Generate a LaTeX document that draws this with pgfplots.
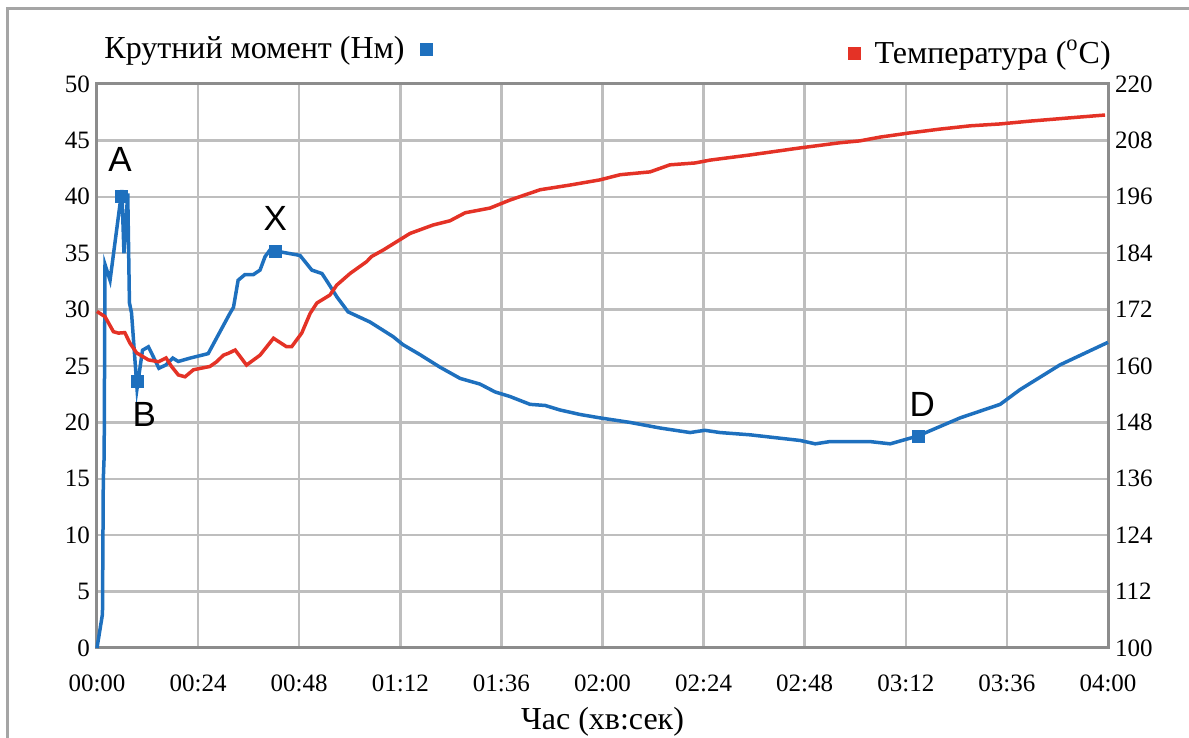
\documentclass[border=0pt]{standalone}
\usepackage{fontspec}
\setmainfont{Liberation Serif}
\newfontfamily\arialfont{Liberation Sans}
\usepackage{pgfplots}
\pgfplotsset{compat=1.18}

\definecolor{torque}{RGB}{30,112,190}
\definecolor{temper}{RGB}{228,50,38}
\definecolor{gridc}{RGB}{190,190,190}
\definecolor{axisc}{RGB}{140,140,140}
\definecolor{framec}{RGB}{165,165,165}

% torque, N m (left axis); time in seconds
\pgfplotstableread{
t v
0 0
1.3 3.0
1.5 15
1.7 17
1.9 34.0
3.1 32.6
5.9 40.6
6.4 35.0
7.3 40.3
7.7 30.6
8.2 29.7
9.5 23.0
10.8 26.4
12.2 26.7
13.0 26.1
14.7 24.8
16.4 25.1
18.0 25.7
19.3 25.4
22.1 25.7
26.4 26.1
31.6 29.7
32.4 30.2
33.5 32.6
35.1 33.1
37.1 33.1
38.7 33.5
39.9 34.7
41.1 35.3
42.3 35.2
48.2 34.8
51.0 33.5
53.4 33.2
54.8 32.4
57.0 31.1
59.6 29.8
64.8 28.9
70.3 27.6
72.6 26.9
76.7 26.0
81.4 24.9
86.2 23.9
90.9 23.4
94.5 22.7
98.0 22.3
102.8 21.6
106.4 21.5
109.9 21.1
114.7 20.7
119.4 20.4
126.5 20.0
133.7 19.5
140.8 19.1
144.3 19.3
147.9 19.1
155.0 18.9
162.1 18.6
166.9 18.4
170.5 18.1
174.0 18.3
183.5 18.3
188.3 18.1
194.9 18.8
204.9 20.4
214.4 21.6
219.1 22.9
228.6 25.1
240 27.1
}\torquedata

% temperature, deg C (right axis)
\pgfplotstableread{
t v
0 171.6
1.9 170.5
3.9 167.3
5.1 167.0
6.6 167.1
7.8 164.9
9.4 162.8
12.2 161.3
14.6 160.9
16.4 161.7
17.7 159.9
19.3 158.1
20.9 157.7
22.9 159.2
26.8 159.9
28.4 160.9
30.0 162.3
31.2 162.7
32.8 163.4
35.5 160.2
38.7 162.3
41.9 165.9
45.0 164.1
46.2 164.1
48.6 167.0
50.6 171.2
52.2 173.4
55.3 175.1
56.9 177.2
60.1 179.7
64.0 182.2
65.2 183.3
68.0 184.7
74.3 188.2
79.8 190.0
83.8 190.9
87.4 192.6
93.3 193.6
98.0 195.3
105.2 197.5
112.3 198.5
119.4 199.6
124.2 200.7
131.3 201.3
136.0 202.8
142.0 203.2
145.5 203.8
155.0 204.9
166.9 206.4
176.4 207.5
181.1 207.9
185.9 208.7
193.0 209.6
200.1 210.4
207.3 211.1
214.4 211.5
221.5 212.1
231.0 212.8
239.3 213.4
}\tempdata

\pgfplotsset{
  base/.style={
    scale only axis,
    width=505.5pt, height=282pt,
    xmin=0, xmax=240,
    clip=false,
    major tick length=0pt,
    tick label style={font=\fontsize{12.5}{14}\selectfont},
    /pgf/number format/assume math mode=true,
    legend cell align=left,
  },
}

\begin{document}
\begin{tikzpicture}
\useasboundingbox (-48.5pt,-45pt) rectangle (546pt,324pt);
\draw[framec, line width=1.5pt] (-44.5pt,-46pt) -- (-44.5pt,319.5pt) -- (547pt,319.5pt);

\begin{axis}[
    base,
    ymin=0, ymax=50,
    ytick={0,5,...,50},
    xtick={0,24,...,240},
    xticklabels={00:00,00:24,00:48,01:12,01:36,02:00,02:24,02:48,03:12,03:36,04:00},
    xticklabel style={yshift=-10pt},
    grid=major,
    grid style={gridc, line width=1.25pt},
    axis line style={axisc, line width=1.5pt},
    xlabel={Час (хв:сек)},
    xlabel style={font=\fontsize{16}{18}\selectfont, yshift=-1pt},
    legend plot pos=right,
    legend style={at={(axis description cs:0.003,1.062)}, anchor=west,
                  draw=none, fill=none, inner sep=0pt,
                  font=\fontsize{16}{18}\selectfont},
]
\addplot[torque, line width=1.75pt, forget plot] table[x=t, y=v] {\torquedata};
% marked points A, B, X, D
\addplot[only marks, mark=square*, mark size=3pt, torque]
    coordinates {(5.9,40) (9.7,23.6) (42.3,35.2) (194.9,18.8)};
\addlegendentry{Крутний момент (Нм)\hspace*{6pt}\mbox{}}

\node[font=\arialfont\fontsize{17.5}{20}\selectfont] at (axis cs:5.5,43.3) {A};
\node[font=\arialfont\fontsize{17.5}{20}\selectfont] at (axis cs:11.2,20.7) {B};
\node[font=\arialfont\fontsize{17.5}{20}\selectfont] at (axis cs:42.3,38.1) {X};
\node[font=\arialfont\fontsize{17.5}{20}\selectfont] at (axis cs:195.9,21.6) {D};
\end{axis}

\begin{axis}[
    base,
    ymin=100, ymax=220,
    ytick={100,112,...,220},
    axis y line*=right,
    axis x line=none,
    y axis line style={draw=none},
    legend style={at={(axis description cs:1.007,1.055)}, anchor=east,
                  draw=none, fill=none, inner sep=0pt,
                  font=\fontsize{16}{18}\selectfont},
]
\addlegendimage{only marks, mark=square*, mark size=3pt, temper}
\addlegendentry{\mbox{}\hspace*{5pt}Температура (\textsuperscript{o}C)}
\addplot[temper, line width=1.75pt] table[x=t, y=v] {\tempdata};
\end{axis}
\end{tikzpicture}
\end{document}
